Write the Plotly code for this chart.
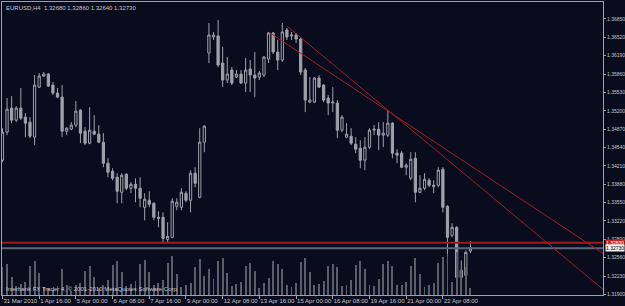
import plotly.graph_objects as go

# ---- data (EURUSD H4) ----
opens = [1.34312, 1.34816, 1.35248, 1.35032, 1.35248, 1.35086, 1.34996, 1.34726, 1.35626, 1.35824,
         1.35860, 1.35662, 1.35518, 1.35446, 1.34834, 1.34870, 1.34942, 1.35212, 1.34834, 1.34618,
         1.34834, 1.34780, 1.34636, 1.34258, 1.34114, 1.34006, 1.33736, 1.34060, 1.33808, 1.33880,
         1.33808, 1.33466, 1.33592, 1.33538, 1.33286, 1.33286, 1.32890, 1.32926, 1.33484, 1.33466,
         1.33718, 1.33592, 1.34078, 1.33646, 1.34636, 1.36238, 1.36526, 1.36544, 1.36058, 1.35752,
         1.35932, 1.35806, 1.35860, 1.35698, 1.35950, 1.35842, 1.35806, 1.35842, 1.36130, 1.36598,
         1.36256, 1.36112, 1.36652, 1.36544, 1.36562, 1.36490, 1.35932, 1.35356, 1.35356, 1.35788,
         1.35662, 1.35428, 1.35338, 1.35338, 1.34852, 1.34726, 1.34744, 1.34600, 1.34528, 1.34312,
         1.34546, 1.34852, 1.34870, 1.34762, 1.34762, 1.34978, 1.34438, 1.34438, 1.34186, 1.33988,
         1.34348, 1.33736, 1.33808, 1.33952, 1.33862, 1.33862, 1.34150, 1.33484, 1.32962, 1.33106,
         1.32332, 1.32242, 1.32680]
highs = [1.34888, 1.35428, 1.35464, 1.35284, 1.35608, 1.35158, 1.35086, 1.35842, 1.35878, 1.35896,
         1.35878, 1.35716, 1.35608, 1.35662, 1.34906, 1.34996, 1.35374, 1.35230, 1.34906, 1.35266,
         1.35122, 1.34942, 1.34798, 1.34348, 1.34168, 1.34078, 1.34078, 1.34078, 1.33916, 1.33988,
         1.34006, 1.33718, 1.33754, 1.33556, 1.33394, 1.33376, 1.33196, 1.33628, 1.33628, 1.33808,
         1.33754, 1.34132, 1.34186, 1.34888, 1.34942, 1.36778, 1.36616, 1.36832, 1.36346, 1.36166,
         1.35986, 1.35932, 1.35932, 1.36148, 1.36112, 1.36256, 1.35914, 1.36184, 1.36616, 1.36616,
         1.36472, 1.36778, 1.36688, 1.36616, 1.36598, 1.36526, 1.35968, 1.35806, 1.35806, 1.35842,
         1.35680, 1.35482, 1.35626, 1.35392, 1.35122, 1.34978, 1.34888, 1.34726, 1.34672, 1.34726,
         1.34888, 1.34942, 1.34996, 1.34996, 1.35212, 1.34996, 1.34510, 1.34474, 1.34258, 1.34456,
         1.34456, 1.34042, 1.34078, 1.33988, 1.33952, 1.34186, 1.34186, 1.33502, 1.33178, 1.33124,
         1.32512, 1.32692, 1.32860]
lows = [1.34276, 1.34762, 1.34978, 1.34996, 1.35032, 1.34726, 1.34708, 1.34582, 1.35608, 1.35806,
        1.35626, 1.35482, 1.35428, 1.34726, 1.34762, 1.34852, 1.34906, 1.34618, 1.34582, 1.34600,
        1.34762, 1.34618, 1.34186, 1.34006, 1.33952, 1.33538, 1.33538, 1.33772, 1.33718, 1.33556,
        1.33466, 1.33232, 1.33466, 1.33232, 1.33106, 1.32836, 1.32836, 1.32910, 1.33412, 1.33412,
        1.33556, 1.33376, 1.33826, 1.33628, 1.34456, 1.36058, 1.36472, 1.35986, 1.35626, 1.35698,
        1.35662, 1.35788, 1.35680, 1.35536, 1.35536, 1.35446, 1.35752, 1.35806, 1.36058, 1.36220,
        1.35932, 1.36076, 1.36472, 1.36472, 1.36418, 1.35842, 1.35176, 1.35338, 1.35338, 1.35608,
        1.35356, 1.35122, 1.35176, 1.34708, 1.34816, 1.34708, 1.34582, 1.34438, 1.34168, 1.34132,
        1.34510, 1.34762, 1.34492, 1.34546, 1.34726, 1.34348, 1.34258, 1.34168, 1.34042, 1.33952,
        1.33556, 1.33718, 1.33772, 1.33826, 1.33718, 1.33826, 1.33376, 1.32566, 1.32926, 1.32026,
        1.32188, 1.32206, 1.32640]
closes = [1.34816, 1.35230, 1.35032, 1.35248, 1.35068, 1.34978, 1.34744, 1.35662, 1.35824, 1.35860,
          1.35644, 1.35518, 1.35446, 1.34834, 1.34888, 1.34942, 1.35194, 1.34798, 1.34618, 1.34852,
          1.34780, 1.34636, 1.34258, 1.34096, 1.33988, 1.33754, 1.34042, 1.33808, 1.33880, 1.33808,
          1.33628, 1.33610, 1.33520, 1.33286, 1.33270, 1.32908, 1.32944, 1.33574, 1.33556, 1.33736,
          1.33592, 1.34078, 1.33898, 1.34636, 1.34924, 1.36562, 1.36562, 1.36022, 1.35752, 1.35860,
          1.35698, 1.35860, 1.35698, 1.35932, 1.35842, 1.35788, 1.35878, 1.36166, 1.36598, 1.36256,
          1.36112, 1.36616, 1.36526, 1.36562, 1.36490, 1.35896, 1.35392, 1.35392, 1.35788, 1.35626,
          1.35392, 1.35338, 1.35356, 1.34852, 1.35086, 1.34780, 1.34618, 1.34510, 1.34312, 1.34546,
          1.34852, 1.34870, 1.34762, 1.34798, 1.34978, 1.34438, 1.34402, 1.34186, 1.34222, 1.34330,
          1.33736, 1.33808, 1.33970, 1.33862, 1.33844, 1.34132, 1.33466, 1.32926, 1.33106, 1.32206,
          1.32206, 1.32656, 1.32730]
volumes = [3800, 4200, 2500, 1200, 1500, 1800, 3900, 4600, 3000, 1100,
           900, 700, 1200, 3600, 1400, 500, 1300, 1600, 3300, 3900,
           2400, 1000, 1400, 2000, 4100, 4700, 3100, 1200, 1500, 1900,
           4300, 4800, 3200, 1300, 1600, 2100, 4400, 5300, 2900, 1100,
           1400, 1700, 3800, 4900, 2600, 3500, 2200, 4600, 5100, 3000,
           1200, 1500, 1800, 4000, 4400, 3300, 1000, 1600, 2300, 4700,
           4200, 3600, 1300, 1100, 1700, 4500, 5000, 3100, 1400, 1500,
           1900, 3900, 4300, 3800, 1200, 1300, 2000, 4100, 4600, 3500,
           1400, 1200, 2200, 4200, 4700, 3900, 1300, 1400, 1800, 4000,
           5000, 2900, 1100, 1300, 1600, 4400, 5200, 5600, 1800, 5900,
           3400, 3800, 900]
bar_index = list(range(len(opens)))

x_tick_index = [0, 8, 16, 24, 32, 40, 48, 56, 64, 72, 80, 88, 96]
x_tick_labels = ["31 Mar 2010", "1 Apr 16:00", "5 Apr 00:00", "6 Apr 08:00", "7 Apr 16:00",
                 "9 Apr 00:00", "12 Apr 08:00", "13 Apr 16:00", "15 Apr 00:00", "16 Apr 08:00",
                 "19 Apr 16:00", "21 Apr 00:00", "22 Apr 08:00"]
y_tick_values = [1.36850, 1.36520, 1.36190, 1.35860, 1.35530, 1.35200, 1.34870, 1.34540,
                 1.34210, 1.33880, 1.33550, 1.33220, 1.32890, 1.32560, 1.32230, 1.31900]
y_tick_labels = ["%.5f" % v for v in y_tick_values]

trend_a_x = [58, 130.9]
trend_a_y = [1.36616, 1.32638]
trend_b_x = [62, 130.9]
trend_b_y = [1.36724, 1.31990]
hline_price = 1.32830
bid_price = 1.32730
title_text = "EURUSD,H4  1.32680 1.32860 1.32640 1.32730"
footer_text = "Interbank FX Trader 4, © 2001-2010 MetaQuotes Software Corp."

BG = "#080c1c"
GRAY = "#9ea2aa"
TXT = "#c4c8d0"
FONT = "Liberation Sans"
XR = [-0.1, 130.9]

fig = go.Figure()

fig.add_trace(go.Bar(x=bar_index, y=volumes, yaxis="y2", width=0.2,
                     marker=dict(color="#5a5e68", line=dict(width=0)), showlegend=False,
                     hoverinfo="skip"))

fig.add_trace(go.Scatter(x=XR, y=[hline_price, hline_price], mode="lines",
                         line=dict(color="#9a1c1e", width=2), showlegend=False, hoverinfo="skip"))
fig.add_trace(go.Scatter(x=XR, y=[bid_price, bid_price], mode="lines",
                         line=dict(color="#5c6679", width=2), showlegend=False, hoverinfo="skip"))

fig.add_trace(go.Candlestick(
    x=bar_index, open=opens, high=highs, low=lows, close=closes,
    increasing=dict(line=dict(color=GRAY, width=1), fillcolor=BG),
    decreasing=dict(line=dict(color=GRAY, width=1), fillcolor=GRAY),
    whiskerwidth=0, showlegend=False, hoverinfo="skip"))

for tx, ty in ((trend_a_x, trend_a_y), (trend_b_x, trend_b_y)):
    fig.add_trace(go.Scatter(x=tx, y=ty, mode="lines", line=dict(color="#a3201f", width=1),
                             showlegend=False, hoverinfo="skip"))

fig.update_layout(
    width=625, height=306,
    margin=dict(l=2, r=22, t=2, b=11, autoexpand=False),
    paper_bgcolor=BG, plot_bgcolor=BG,
    font=dict(family=FONT, size=6, color=TXT),
    xaxis=dict(range=XR, rangeslider=dict(visible=False), showgrid=False, zeroline=False,
               showline=True, mirror=True, linecolor=GRAY, linewidth=1, automargin=False,
               tickmode="array", tickvals=x_tick_index, ticktext=x_tick_labels, tickangle=0,
               ticks="outside", ticklen=3, tickcolor=GRAY, ticklabelposition="outside right",
               tickfont=dict(size=6, color=TXT, family=FONT)),
    yaxis=dict(range=[1.3189, 1.37155], side="right", showgrid=False, zeroline=False,
               showline=True, mirror=True, linecolor=GRAY, linewidth=1, automargin=False,
               tickmode="array", tickvals=y_tick_values, ticktext=y_tick_labels,
               ticks="outside", ticklen=2, tickcolor=GRAY, ticklabelstandoff=0,
               tickfont=dict(size=5, color=TXT, family=FONT)),
    yaxis2=dict(range=[0, 40000], overlaying="y", visible=False),
    bargap=0,
    annotations=[
        dict(text=title_text, xref="paper", yref="paper", x=0.004, y=0.995, xanchor="left",
             yanchor="top", showarrow=False, font=dict(size=6, color=TXT, family=FONT)),
        dict(text=footer_text, xref="paper", yref="paper", x=0.004, y=0.005, xanchor="left",
             yanchor="bottom", showarrow=False, font=dict(size=6, color=TXT, family=FONT)),
        dict(text="%.5f" % hline_price, xref="paper", yref="y", x=1.0, y=hline_price,
             xanchor="left", yanchor="middle", showarrow=False, bgcolor="#c4262a",
             borderpad=0, xshift=2, font=dict(size=5, color="#ffffff", family=FONT)),
        dict(text="%.5f" % bid_price, xref="paper", yref="y", x=1.0, y=bid_price,
             xanchor="left", yanchor="middle", showarrow=False, bgcolor="#f0f0f0",
             borderpad=0, xshift=2, font=dict(size=5, color="#000000", family=FONT)),
    ],
)

fig.write_html("out.html")
